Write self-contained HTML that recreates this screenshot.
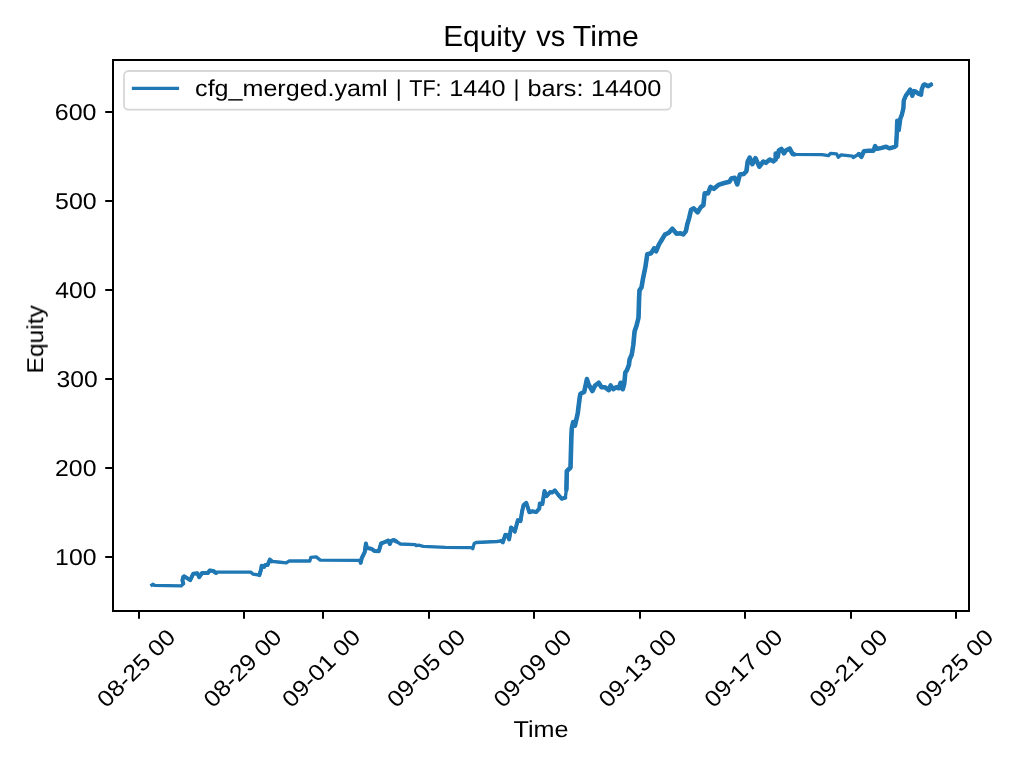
<!DOCTYPE html>
<html><head><meta charset="utf-8"><title>Equity vs Time</title>
<style>
html,body{margin:0;padding:0;background:#fff;width:1024px;height:768px;overflow:hidden}
svg{display:block}
text{font-family:"Liberation Sans", sans-serif;fill:#000;text-rendering:geometricPrecision}
.tx{filter:grayscale(1)}
</style></head><body>
<svg width="1024" height="768" viewBox="0 0 1024 768">
<rect x="0" y="0" width="1024" height="768" fill="#fff"/>
<line x1="105.22" y1="557" x2="113" y2="557" stroke="#000" stroke-width="2"/>
<line x1="105.22" y1="468" x2="113" y2="468" stroke="#000" stroke-width="2"/>
<line x1="105.22" y1="379" x2="113" y2="379" stroke="#000" stroke-width="2"/>
<line x1="105.22" y1="290" x2="113" y2="290" stroke="#000" stroke-width="2"/>
<line x1="105.22" y1="201" x2="113" y2="201" stroke="#000" stroke-width="2"/>
<line x1="105.22" y1="112" x2="113" y2="112" stroke="#000" stroke-width="2"/>
<line x1="139" y1="611" x2="139" y2="618.78" stroke="#000" stroke-width="2"/>
<line x1="244" y1="611" x2="244" y2="618.78" stroke="#000" stroke-width="2"/>
<line x1="323" y1="611" x2="323" y2="618.78" stroke="#000" stroke-width="2"/>
<line x1="429" y1="611" x2="429" y2="618.78" stroke="#000" stroke-width="2"/>
<line x1="534" y1="611" x2="534" y2="618.78" stroke="#000" stroke-width="2"/>
<line x1="640" y1="611" x2="640" y2="618.78" stroke="#000" stroke-width="2"/>
<line x1="745" y1="611" x2="745" y2="618.78" stroke="#000" stroke-width="2"/>
<line x1="851" y1="611" x2="851" y2="618.78" stroke="#000" stroke-width="2"/>
<line x1="956" y1="611" x2="956" y2="618.78" stroke="#000" stroke-width="2"/>
<polyline points="151.8,585 152.8,584.3 154.5,585.3 181.3,585.8 183.3,583.5 182.4,580.5 183.2,577 184.3,576.3 190.2,580.2 193.3,573.7 197.4,573.3 199.2,577.2 202.1,573 208,573 209.7,570.4 213.2,571 216.2,573 217.3,572.1 250.7,572.1 252.9,574.1 259.4,575.1 261.1,569.2 261.7,565.7 264.1,566.9 265.2,565.1 267.6,565.1 269.9,559.6 271.7,561.3 278.1,562 286.3,562.8 289.3,560.8 309.8,561 310.9,557.3 316.2,556.9 320.3,560.1 360.2,560.4 360.7,562.8 361.8,558 364.7,552.2 365.9,543.4 367,548.1 371.1,548.7 374.6,551 378.8,551.3 381.1,543.4 384.6,542.2 388.1,540.5 389.9,544 391.1,541.1 393.4,539.9 396.3,541.4 400.4,544 415.1,544.6 416.3,545.7 418.6,545.2 423.3,546.3 445.5,547.3 471.9,547.7 472.7,548.7 474.2,543.5 476.25,542.5 497.1,541.5 501.25,540.9 502.8,542.3 505.4,534.7 507.5,535.2 509.1,539.4 511.1,527.4 512.7,529 514.8,531.6 517.9,520.1 520.5,521.1 522.1,511.25 523.6,505 526.25,502.9 529.4,512.3 532.5,511.25 536.1,512.1 539.3,508.6 539.8,503.4 542.4,504 544.5,490.9 546.6,496.1 550.2,492 552.3,492.5 554.9,490.4 558.5,495.1 561.7,498.75 565.3,497.7 566.4,489.4 566.8,471.2 570.5,467.5 571.4,436.5 571.8,428.3 573.2,422 575,425.6 577.8,412.9 579.6,398.3 580.5,393.7 584.2,391.9 586.9,379.1 588.7,384.6 592.4,391 595.1,385.5 598.7,382.8 601.5,387.3 605.1,387.3 608.8,390.1 610.6,385.5 613.3,389.2 616,387.3 618.8,388.2 620.6,382.8 622.8,389.2 624.2,384 624.8,378 625.3,372.6 626.9,370.3 628.9,365 629.6,359.5 631.7,354.8 633.3,345 634.6,331.3 636.6,325.5 638.5,317.7 639.1,298.1 639.5,290.3 641.5,287.4 643,278.6 645.4,266.9 647.3,254.2 651.2,253.2 654.1,248.3 656.1,251.25 659,244.4 662,239.5 664.9,234.6 668.8,232.7 672.3,228.8 676.6,233.7 680.5,233.3 683.3,234.4 685.9,231.1 687.2,224.6 689.1,218.1 691.1,209.7 693.7,208.4 697.6,212.3 700.8,207.1 703.4,205.1 704.7,193.4 708,193.4 710.6,186.9 713.9,188.8 718.4,184.9 724.3,183 729.5,181.7 731.4,178.4 734.7,177.8 737.3,184.3 739.9,174.5 743.8,173.9 746.4,171.25 747.7,161.5 749.7,157.6 752.3,164.1 755.5,158.2 759.4,166.7 763.3,161.5 765.9,162.8 769.8,159.5 773.2,161.3 775.7,159.4 775.7,153.6 777.6,156.8 778.9,150.5 781.4,148.9 784,153.3 785.9,150.5 789.7,148.6 792.6,154 794.1,154.3 822,154.6 828.5,155.6 830.5,153.4 836.5,153.8 838.3,157.2 841.1,154.9 852.5,156.2 853.2,157.5 858.9,154 861.4,156.8 863.9,151.1 869,150.7 873.5,150.7 875.1,146 877.3,148.9 881.7,147.9 886.2,146.7 889.4,148.4 894.6,146.9 896.1,145.8 896.7,135.4 897.2,120.8 898.75,130.2 900.3,118.75 901.9,114.6 903.4,108.3 903.75,100.5 906,95.3 908.1,92.7 910.2,89.6 912.3,95.8 913.9,91.1 915.9,91.7 918.5,93.75 921.1,94.8 921.7,89.6 923.2,85.4 924.3,84.4 925.8,84.9 927.9,86.25 931,84.6" fill="none" stroke="#1f77b4" stroke-width="3.33" stroke-linejoin="round" stroke-linecap="square"/>
<polyline points="183.3,583.5 182.4,580.5 183.2,577 184.3,576.3 190.2,580.2 193.3,573.7 197.4,573.3 199.2,577.2 202.1,573 208,573 209.7,570.4 213.2,571 216.2,573" fill="none" stroke="#1f77b4" stroke-width="4.0" stroke-linejoin="round" stroke-linecap="round"/>
<polyline points="259.4,575.1 261.1,569.2 261.7,565.7 264.1,566.9 265.2,565.1 267.6,565.1 269.9,559.6 271.7,561.3" fill="none" stroke="#1f77b4" stroke-width="4.0" stroke-linejoin="round" stroke-linecap="round"/>
<polyline points="360.2,560.4 360.7,562.8 361.8,558 364.7,552.2 365.9,543.4 367,548.1 371.1,548.7 374.6,551 378.8,551.3 381.1,543.4 384.6,542.2 388.1,540.5 389.9,544 391.1,541.1 393.4,539.9 396.3,541.4" fill="none" stroke="#1f77b4" stroke-width="4.0" stroke-linejoin="round" stroke-linecap="round"/>
<polyline points="501.25,540.9 502.8,542.3 505.4,534.7 507.5,535.2 509.1,539.4 511.1,527.4 512.7,529 514.8,531.6 517.9,520.1 520.5,521.1 522.1,511.25 523.6,505 526.25,502.9 529.4,512.3 532.5,511.25 536.1,512.1 539.3,508.6 539.8,503.4 542.4,504 544.5,490.9 546.6,496.1 550.2,492 552.3,492.5 554.9,490.4 558.5,495.1 561.7,498.75 565.3,497.7" fill="none" stroke="#1f77b4" stroke-width="4.0" stroke-linejoin="round" stroke-linecap="round"/>
<polyline points="566.4,489.4 566.8,471.2 570.5,467.5 571.4,436.5 571.8,428.3 573.2,422 575,425.6 577.8,412.9 579.6,398.3 580.5,393.7 584.2,391.9 586.9,379.1 588.7,384.6 592.4,391 595.1,385.5 598.7,382.8 601.5,387.3 605.1,387.3 608.8,390.1 610.6,385.5 613.3,389.2 616,387.3 618.8,388.2 620.6,382.8 622.8,389.2 624.2,384 624.8,378 625.3,372.6 626.9,370.3 628.9,365 629.6,359.5 631.7,354.8 633.3,345 634.6,331.3 636.6,325.5 638.5,317.7 639.1,298.1 639.5,290.3 641.5,287.4 643,278.6 645.4,266.9 647.3,254.2 651.2,253.2 654.1,248.3 656.1,251.25 659,244.4 662,239.5 664.9,234.6 668.8,232.7 672.3,228.8 676.6,233.7 680.5,233.3 683.3,234.4 685.9,231.1 687.2,224.6 689.1,218.1 691.1,209.7 693.7,208.4 697.6,212.3 700.8,207.1 703.4,205.1 704.7,193.4 708,193.4 710.6,186.9 713.9,188.8 718.4,184.9 724.3,183 729.5,181.7 731.4,178.4 734.7,177.8 737.3,184.3 739.9,174.5 743.8,173.9 746.4,171.25 747.7,161.5 749.7,157.6 752.3,164.1 755.5,158.2 759.4,166.7 763.3,161.5 765.9,162.8 769.8,159.5 773.2,161.3 775.7,159.4 775.7,153.6 777.6,156.8 778.9,150.5 781.4,148.9 784,153.3 785.9,150.5 789.7,148.6 792.6,154 794.1,154.3" fill="none" stroke="#1f77b4" stroke-width="4.6" stroke-linejoin="round" stroke-linecap="round"/>
<polyline points="858.9,154 861.4,156.8 863.9,151.1 869,150.7 873.5,150.7 875.1,146 877.3,148.9 881.7,147.9 886.2,146.7 889.4,148.4 894.6,146.9 896.1,145.8 896.7,135.4 897.2,120.8 898.75,130.2 900.3,118.75 901.9,114.6 903.4,108.3 903.75,100.5 906,95.3 908.1,92.7 910.2,89.6 912.3,95.8 913.9,91.1 915.9,91.7 918.5,93.75 921.1,94.8 921.7,89.6 923.2,85.4 924.3,84.4 925.8,84.9 927.9,86.25 931,84.6" fill="none" stroke="#1f77b4" stroke-width="4.4" stroke-linejoin="round" stroke-linecap="round"/>
<rect x="113" y="60" width="856" height="551" fill="none" stroke="#000" stroke-width="2" stroke-linejoin="miter"/>
<rect x="124" y="71" width="547" height="38.6" rx="4.4" ry="4.4" fill="#fff" fill-opacity="0.8" stroke="#d6d6d6" stroke-width="1.78"/>
<line x1="133.5" y1="88.4" x2="177.4" y2="88.4" stroke="#1f77b4" stroke-width="3.33" stroke-linecap="square"/>
<g class="tx">
<text x="55.11" y="564.80" font-size="23.0" textLength="41.33" lengthAdjust="spacingAndGlyphs">100</text>
<text x="55.05" y="475.80" font-size="23.0" textLength="41.39" lengthAdjust="spacingAndGlyphs">200</text>
<text x="56.48" y="386.80" font-size="23.0" textLength="41.16" lengthAdjust="spacingAndGlyphs">300</text>
<text x="55.36" y="297.80" font-size="23.0" textLength="41.08" lengthAdjust="spacingAndGlyphs">400</text>
<text x="55.05" y="208.80" font-size="23.0" textLength="41.61" lengthAdjust="spacingAndGlyphs">500</text>
<text x="54.75" y="119.80" font-size="23.0" textLength="41.70" lengthAdjust="spacingAndGlyphs">600</text>
<text transform="translate(176.80,638.50) rotate(-45)" text-anchor="end" font-size="23.0" textLength="99.3" lengthAdjust="spacingAndGlyphs">08-25 00</text>
<text transform="translate(283.17,638.50) rotate(-45)" text-anchor="end" font-size="23.0" textLength="99.3" lengthAdjust="spacingAndGlyphs">08-29 00</text>
<text transform="translate(361.83,638.50) rotate(-45)" text-anchor="end" font-size="23.0" textLength="99.3" lengthAdjust="spacingAndGlyphs">09-01 00</text>
<text transform="translate(466.83,638.50) rotate(-45)" text-anchor="end" font-size="23.0" textLength="99.3" lengthAdjust="spacingAndGlyphs">09-05 00</text>
<text transform="translate(573.12,638.50) rotate(-45)" text-anchor="end" font-size="23.0" textLength="99.3" lengthAdjust="spacingAndGlyphs">09-09 00</text>
<text transform="translate(678.14,638.50) rotate(-45)" text-anchor="end" font-size="23.0" textLength="99.3" lengthAdjust="spacingAndGlyphs">09-13 00</text>
<text transform="translate(784.03,638.50) rotate(-45)" text-anchor="end" font-size="23.0" textLength="99.3" lengthAdjust="spacingAndGlyphs">09-17 00</text>
<text transform="translate(889.03,638.50) rotate(-45)" text-anchor="end" font-size="23.0" textLength="99.3" lengthAdjust="spacingAndGlyphs">09-21 00</text>
<text transform="translate(995.00,638.50) rotate(-45)" text-anchor="end" font-size="23.0" textLength="99.3" lengthAdjust="spacingAndGlyphs">09-25 00</text>
<text x="195.1" y="95.8" font-size="23.0" textLength="192.4" lengthAdjust="spacingAndGlyphs">cfg_merged.yaml</text>
<text x="395.8" y="95.8" font-size="23.0">|</text>
<text x="409.2" y="95.8" font-size="23.0" textLength="32.4" lengthAdjust="spacingAndGlyphs">TF:</text>
<text x="449.35" y="95.8" font-size="23.0" textLength="56.1" lengthAdjust="spacingAndGlyphs">1440</text>
<text x="513.5" y="95.8" font-size="23.0">|</text>
<text x="527.4" y="95.8" font-size="23.0" textLength="56.1" lengthAdjust="spacingAndGlyphs">bars:</text>
<text x="591.0" y="95.8" font-size="23.0" textLength="70.3" lengthAdjust="spacingAndGlyphs">14400</text>
<text x="443.2" y="45.8" font-size="29.0" textLength="82.98" lengthAdjust="spacingAndGlyphs">Equity</text>
<text x="536.24" y="45.8" font-size="29.0" textLength="28.99" lengthAdjust="spacingAndGlyphs">vs</text>
<text x="572.86" y="45.8" font-size="29.0" textLength="66.02" lengthAdjust="spacingAndGlyphs">Time</text>
<text x="513.54" y="737.2" font-size="23.0" textLength="55.03" lengthAdjust="spacingAndGlyphs">Time</text>
<text transform="translate(43.0,373.5) rotate(-90)" font-size="23.0" textLength="68.36" lengthAdjust="spacingAndGlyphs">Equity</text>
</g>
</svg>
</body></html>
